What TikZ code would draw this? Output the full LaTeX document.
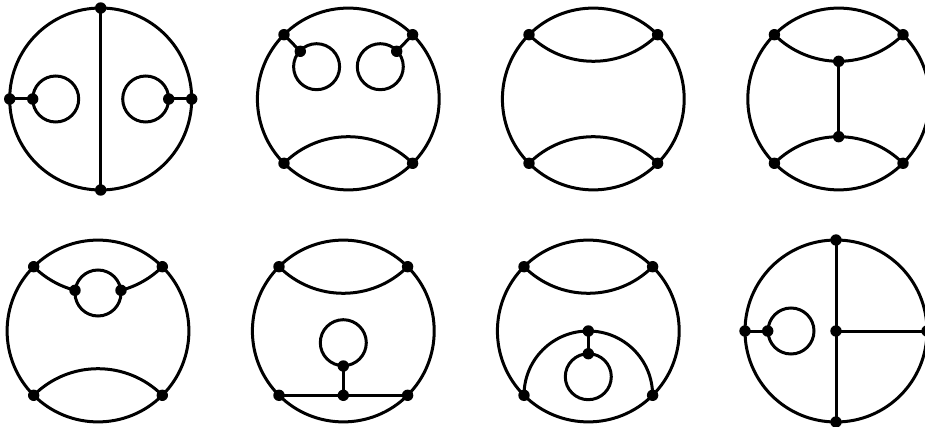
\documentclass[tikz,border=0pt]{standalone}
\tikzset{
  vtx/.style={circle,fill=black,draw=none,inner sep=0pt,minimum size=11.4pt},
  loopc/.style={circle,draw=black,inner sep=0pt,minimum size=46pt},
  edge/.style={line width=3pt,draw=black},
  quarter/.style={bend left=45},
  quarterr/.style={bend right=45},
  eighthr/.style={bend right=22.5,looseness=0.885},
  eighth/.style={bend left=22.5,looseness=0.885},
  partr/.style={bend right=15.2,looseness=0.867},
}
\begin{document}
\begin{tikzpicture}[x=1pt,y=-1pt,every node/.append style={line width=3pt}]
\useasboundingbox (0,0) rectangle (925,427);
% --- diagram 1
\begin{scope}[shift={(100.7,99)}]
\node[vtx] (a1) at (0,-91) {};
\node[vtx] (a2) at (91,0) {};
\node[vtx] (a3) at (0,91) {};
\node[vtx] (a4) at (-91,0) {};
\node[vtx] (a5) at (-68,0) {};
\node[vtx] (a6) at (68,0) {};
\node[loopc] (al) at (-45,0) {};
\node[loopc] (ar) at (45,0) {};
\end{scope}
\draw[edge] (a1.center) to[quarter] (a2.center) to[quarter] (a3.center) to[quarter] (a4.center) to[quarter] (a1.center);
\draw[edge] (a1.center) -- (a3.center);
\draw[edge] (a4.center) -- (a5.center);
\draw[edge] (a2.center) -- (a6.center);
% --- diagram 2
\begin{scope}[shift={(348.3,99)}]
\node[vtx] (b1) at (-64.3,-64.3) {};
\node[vtx] (b2) at (64.3,-64.3) {};
\node[vtx] (b3) at (64.3,64.3) {};
\node[vtx] (b4) at (-64.3,64.3) {};
\node[vtx] (b5) at (-48,-47.7) {};
\node[vtx] (b6) at (48.4,-47.7) {};
\node[loopc] (bl) at (-31.7,-32.3) {};
\node[loopc] (br) at (32,-32.3) {};
\end{scope}
\draw[edge] (b1.center) to[quarter] (b2.center) to[quarter] (b3.center) to[quarter] (b4.center) to[quarter] (b1.center);
\draw[edge] (b4.center) to[quarter] (b3.center);
\draw[edge] (b1.center) -- (b5.center);
\draw[edge] (b2.center) -- (b6.center);
% --- diagram 3
\begin{scope}[shift={(593.3,99)}]
\node[vtx] (c1) at (-64.3,-64.3) {};
\node[vtx] (c2) at (64.3,-64.3) {};
\node[vtx] (c3) at (64.3,64.3) {};
\node[vtx] (c4) at (-64.3,64.3) {};
\end{scope}
\draw[edge] (c1.center) to[quarter] (c2.center) to[quarter] (c3.center) to[quarter] (c4.center) to[quarter] (c1.center);
\draw[edge] (c1.center) to[quarterr] (c2.center);
\draw[edge] (c4.center) to[quarter] (c3.center);
% --- diagram 4
\begin{scope}[shift={(838.7,99)}]
\node[vtx] (d1) at (-64.3,-64.3) {};
\node[vtx] (d2) at (64.3,-64.3) {};
\node[vtx] (d3) at (64.3,64.3) {};
\node[vtx] (d4) at (-64.3,64.3) {};
\node[vtx] (d5) at (0,-37.7) {};
\node[vtx] (d6) at (0,37.7) {};
\end{scope}
\draw[edge] (d1.center) to[quarter] (d2.center) to[quarter] (d3.center) to[quarter] (d4.center) to[quarter] (d1.center);
\draw[edge] (d1.center) to[eighthr] (d5.center) to[eighthr] (d2.center);
\draw[edge] (d4.center) to[eighth] (d6.center) to[eighth] (d3.center);
\draw[edge] (d5.center) -- (d6.center);
% --- diagram 5
\begin{scope}[shift={(98,331)}]
\node[vtx] (e1) at (-64.3,-64.3) {};
\node[vtx] (e2) at (64.3,-64.3) {};
\node[vtx] (e3) at (64.3,64.3) {};
\node[vtx] (e4) at (-64.3,64.3) {};
\node[vtx] (e5) at (-23,-40.7) {};
\node[vtx] (e6) at (23,-40.7) {};
\node[loopc] (el) at (0,-38) {};
\end{scope}
\draw[edge] (e1.center) to[quarter] (e2.center) to[quarter] (e3.center) to[quarter] (e4.center) to[quarter] (e1.center);
\draw[edge] (e4.center) to[quarter] (e3.center);
\draw[edge] (e1.center) to[partr] (e5.center);
\draw[edge] (e6.center) to[partr] (e2.center);
% --- diagram 6
\begin{scope}[shift={(343.3,331)}]
\node[vtx] (f1) at (-64.3,-64.3) {};
\node[vtx] (f2) at (64.3,-64.3) {};
\node[vtx] (f3) at (64.3,64.3) {};
\node[vtx] (f4) at (-64.3,64.3) {};
\node[vtx] (f5) at (0,64.3) {};
\node[vtx] (f6) at (0,35) {};
\node[loopc] (fl) at (0,11.7) {};
\end{scope}
\draw[edge] (f1.center) to[quarter] (f2.center) to[quarter] (f3.center) to[quarter] (f4.center) to[quarter] (f1.center);
\draw[edge] (f1.center) to[quarterr] (f2.center);
\draw[edge] (f4.center) -- (f5.center) -- (f3.center);
\draw[edge] (f5.center) -- (f6.center);
% --- diagram 7
\begin{scope}[shift={(588.3,331)}]
\node[vtx] (g1) at (-64.3,-64.3) {};
\node[vtx] (g2) at (64.3,-64.3) {};
\node[vtx] (g3) at (64.3,64.3) {};
\node[vtx] (g4) at (-64.3,64.3) {};
\node[vtx] (g5) at (0,0) {};
\node[vtx] (g6) at (0,22.7) {};
\node[loopc] (gl) at (0,45.7) {};
\end{scope}
\draw[edge] (g1.center) to[quarter] (g2.center) to[quarter] (g3.center) to[quarter] (g4.center) to[quarter] (g1.center);
\draw[edge] (g1.center) to[quarterr] (g2.center);
\draw[edge] (g4.center) to[quarter] (g5.center) to[quarter] (g3.center);
\draw[edge] (g5.center) -- (g6.center);
% --- diagram 8
\begin{scope}[shift={(836,331)}]
\node[vtx] (h1) at (0,-91) {};
\node[vtx] (h2) at (91,0) {};
\node[vtx] (h3) at (0,91) {};
\node[vtx] (h4) at (-91,0) {};
\node[vtx] (h5) at (-68.3,0) {};
\node[vtx] (h6) at (0,0) {};
\node[loopc] (hl) at (-45,0) {};
\end{scope}
\draw[edge] (h1.center) to[quarter] (h2.center) to[quarter] (h3.center) to[quarter] (h4.center) to[quarter] (h1.center);
\draw[edge] (h1.center) -- (h3.center);
\draw[edge] (h4.center) -- (h5.center);
\draw[edge] (h6.center) -- (h2.center);
\end{tikzpicture}
\end{document}
